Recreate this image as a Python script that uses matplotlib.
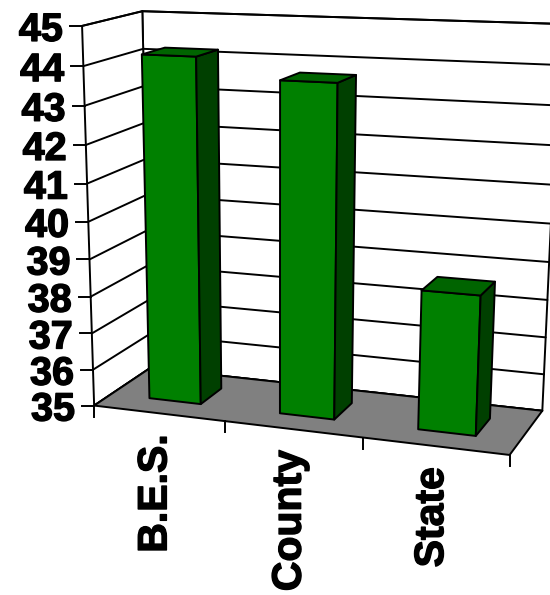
import numpy as np
import matplotlib
matplotlib.use('Agg')
import matplotlib.pyplot as plt
import matplotlib.patheffects as pe
from matplotlib.patches import Polygon

# DATA
#===========================================================================
categories = ['B.E.S.', 'County', 'State']
values = [44.2, 43.7, 38.65]
y_ticks = list(range(35, 46))
y_min, y_max = 35, 45

front_col = '#008000'
top_col = '#006400'
side_col = '#004000'
floor_col = '#808080'

plt.rcParams['font.family'] = ['Liberation Sans', 'DejaVu Sans']
plt.rcParams['font.weight'] = 'bold'
heavy = [pe.withStroke(linewidth=1.0, foreground='black')]

# CAMERA (oblique perspective of the 3D box, fitted from box corners)
#===========================================================================
# (x across 0..1, value 0..1, depth 0 front .. 1 back) -> pixel
calib = [
    ((0, 0.0, 0), (95, 404)),
    ((0, 0.1, 0), (94, 369)),
    ((0, 0.2, 0), (93, 333)),
    ((0, 0.3, 0), (91, 296)),
    ((0, 0.5, 0), (88, 221)),
    ((0, 0.7, 0), (85, 145)),
    ((0, 0.9, 0), (82, 66)),
    ((0, 1.0, 0), (81, 26)),
    ((0, 0.0, 1), (147, 370)),
    ((0, 0.9, 1), (144, 50)),
    ((0, 1.0, 1), (144, 11)),
    ((1, 0.0, 0), (508, 457)),
    ((1, 0.0, 1), (543, 408)),
    ((1, 0.2, 1), (546, 337)),
    ((1, 0.4, 1), (549, 262)),
    ((1/3, 0, 0), (226, 422)),
    ((2/3, 0, 0), (363, 439)),
]


def fit_camera(pairs):
    rows = []
    for (X, Y, Z), (u, v) in pairs:
        u = (u - 275) / 275
        v = (v - 300) / 300
        rows.append([X, Y, Z, 1, 0, 0, 0, 0, -u * X, -u * Y, -u * Z, -u])
        rows.append([0, 0, 0, 0, X, Y, Z, 1, -v * X, -v * Y, -v * Z, -v])
    _, _, vt = np.linalg.svd(np.array(rows, dtype=float))
    return vt[-1].reshape(3, 4)


P = fit_camera(calib)


def proj(cx, val, z):
    X = cx / len(categories)
    Y = (val - y_min) / (y_max - y_min)
    p = P @ np.array([X, Y, z, 1.0])
    return (p[0] / p[2] * 275 + 275, p[1] / p[2] * 300 + 300)


def face(ax, pts, color, z=1):
    ax.add_patch(Polygon([proj(*p) for p in pts], closed=True, facecolor=color,
                         edgecolor='black', lw=1.4, joinstyle='round', zorder=z))


def line(ax, a, b, z=2):
    pa, pb = proj(*a), proj(*b)
    ax.plot([pa[0], pb[0]], [pa[1], pb[1]], color='black', lw=1.4, zorder=z,
            solid_capstyle='round')


# DRAW
#===========================================================================
fig = plt.figure(figsize=(5.5, 5.95), dpi=100)
ax = fig.add_axes([0, 0, 1, 1])
ax.set_xlim(0, 550)
ax.set_ylim(595, 0)
ax.axis('off')

n = len(categories)

# walls
face(ax, [(0, y_min, 1), (n, y_min, 1), (n, y_max, 1), (0, y_max, 1)], 'white')
face(ax, [(0, y_min, 0), (0, y_min, 1), (0, y_max, 1), (0, y_max, 0)], 'white')
for v in y_ticks:
    line(ax, (0, v, 0), (0, v, 1))
    line(ax, (0, v, 1), (n, v, 1))

# floor
face(ax, [(0, y_min, 0), (n, y_min, 0), (n, y_min, 1), (0, y_min, 1)], floor_col, z=3)

# value ticks + labels
for v in y_ticks:
    px, py = proj(0, v, 0)
    ax.plot([px - 12, px], [py, py], color='black', lw=1.4, zorder=4)
    ax.text(px - 19, py, str(v), ha='right', va='center_baseline',
            fontsize=28.5, fontweight='bold', path_effects=heavy)

# category ticks + labels
for i in range(n + 1):
    px, py = proj(i, y_min, 0)
    ax.plot([px, px], [py, py + 11], color='black', lw=1.4, zorder=4)
for i, name in enumerate(categories):
    px, py = proj(i + 0.5, y_min, 0)
    ax.text(px - 3, py + 21, name, rotation=90, ha='center', va='top',
            fontsize=29.5, fontweight='bold', path_effects=heavy)

# bars
for i, val in enumerate(values):
    x0, x1 = i + 0.3, i + 0.7
    z0, z1 = 0.3, 0.7
    face(ax, [(x0, y_min, z0), (x1, y_min, z0), (x1, val, z0), (x0, val, z0)], front_col, z=5)
    face(ax, [(x1, y_min, z0), (x1, y_min, z1), (x1, val, z1), (x1, val, z0)], side_col, z=5)
    face(ax, [(x0, val, z0), (x1, val, z0), (x1, val, z1), (x0, val, z1)], top_col, z=5)

fig.savefig('out.png', dpi=100)
